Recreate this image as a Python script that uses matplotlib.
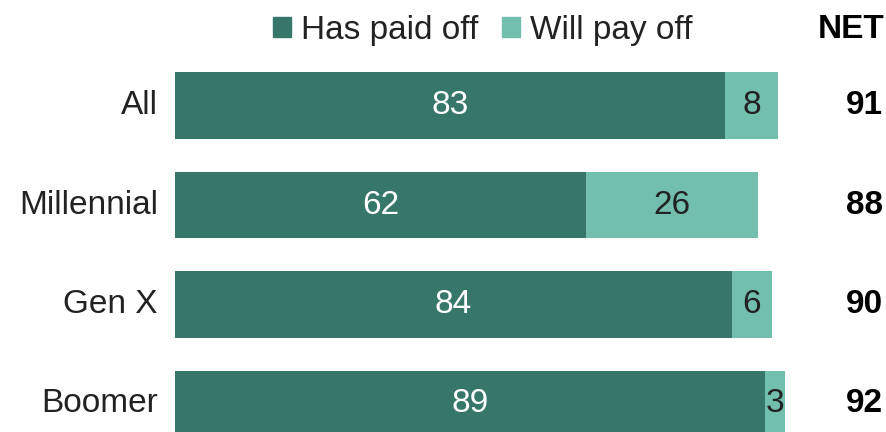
import matplotlib.pyplot as plt
from matplotlib.patches import Patch

plt.rcParams["font.family"] = ["Liberation Sans", "DejaVu Sans"]

# Dados
grupos = ["All", "Millennial", "Gen X", "Boomer"]
pago = [83, 62, 84, 89]
vai_pagar = [8, 26, 6, 3]
net = [91, 88, 90, 92]

cor_pago = "#36776A"
cor_vai = "#72BFAD"
fs = 24

fig = plt.figure(figsize=(8.87, 4.32), dpi=100)
ax = fig.add_axes([175 / 887, 0, 1 - 175 / 887, 1])

y = list(range(len(grupos)))
ax.barh(y, pago, height=0.665, color=cor_pago)
ax.barh(y, vai_pagar, left=pago, height=0.665, color=cor_vai)

ax.set_xlim(0, (887 - 175) / 6.63)
ax.set_ylim(-105.5 / 99.5, (432 - 105.5) / 99.5)
ax.invert_yaxis()
ax.axis("off")

for i in y:
    ax.text(pago[i] / 2, i, str(pago[i]), ha="center", va="center",
            color="white", fontsize=fs)
    ax.text(pago[i] + vai_pagar[i] / 2, i, str(vai_pagar[i]), ha="center",
            va="center", color="#222222", fontsize=fs)
    ax.text(-17 / 6.63, i, grupos[i], ha="right", va="center",
            color="#222222", fontsize=fs)
    ax.text((883 - 175) / 6.63, i, str(net[i]), ha="right", va="center",
            fontweight="bold", color="black", fontsize=fs)

# Cabeçalho NET
fig.text(885 / 887, 1 - 29 / 432, "NET", ha="right", va="center",
         fontweight="bold", fontsize=fs)

# Legenda
handles = [Patch(color=cor_pago, label="Has paid off"),
           Patch(color=cor_vai, label="Will pay off")]
fig.legend(handles=handles, loc="center left", ncol=2, frameon=False,
           bbox_to_anchor=(273 / 887, 1 - 30 / 432), borderpad=0,
           borderaxespad=0, handlelength=0.55, handleheight=0.55,
           handletextpad=0.3, columnspacing=0.7, fontsize=fs,
           labelcolor="#222222")

fig.savefig("out.png", dpi=100)
